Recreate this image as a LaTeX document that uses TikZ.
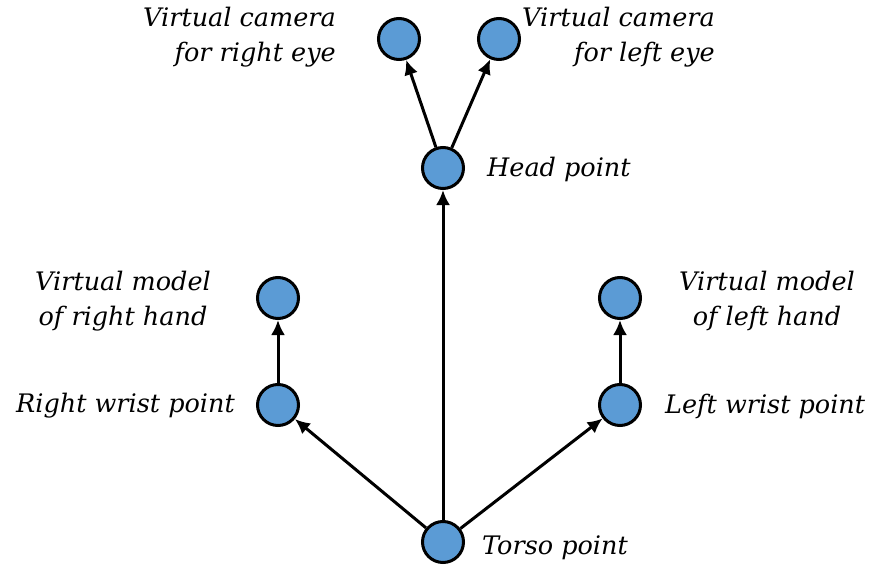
\documentclass[tikz,border=0pt]{standalone}
\usepackage{fontspec}
\setmainfont{DejaVu Serif}
\usetikzlibrary{arrows.meta}
\definecolor{jointblue}{RGB}{91,155,213}
\tikzstyle{joint} = [circle, draw=black, line width=3pt, fill=jointblue, minimum size=41pt, inner sep=0pt]
\tikzstyle{jointtext} = [font=\itshape\fontsize{25.5}{35}\selectfont, inner sep=0pt]
\tikzstyle{arrow} = [line width=3pt, -{Latex[length=15pt,width=14pt]}]

\begin{document}
\begin{tikzpicture}[x=1pt, y=-1pt]
	\useasboundingbox (0,0) rectangle (871,570);
	
	% Kamera
	\node (camright) [joint] at (399,39) {};
	\node (camleft) [joint] at (499,39) {};
	
	% Kepala
	\node (head) [joint] at (443,168) {};
	
	% Tangan
	\node (handright) [joint] at (278,298) {};
	\node (handleft) [joint] at (620,298) {};
	
	% Pergelangan
	\node (wristright) [joint] at (278,405) {};
	\node (wristleft) [joint] at (620,405) {};
	
	% Badan
	\node (torso) [joint] at (443,542) {};
	
	% Teks
	\node (camrighttext) [jointtext, anchor=east, align=right] at (336,37) {Virtual camera\\for right eye};
	\node (camlefttext) [jointtext, anchor=east, align=right] at (715,37) {Virtual camera\\for left eye};
	\node (headtext) [jointtext, anchor=west] at (487,169) {Head point};
	\node (handrighttext) [jointtext, align=center] at (123,301) {Virtual model\\of right hand};
	\node (handlefttext) [jointtext, align=center] at (767,301) {Virtual model\\of left hand};
	\node (wristrighttext) [jointtext, anchor=east] at (235,406) {Right wrist point};
	\node (wristlefttext) [jointtext, anchor=west] at (665,406) {Left wrist point};
	\node (torsotext) [jointtext, anchor=west] at (482,548) {Torso point};
	
	% Panah
	\draw [arrow] (torso) -- (head);
	\draw [arrow] (torso) -- (wristright);
	\draw [arrow] (torso) -- (wristleft);
	\draw [arrow] (wristright) -- (handright);
	\draw [arrow] (wristleft) -- (handleft);
	\draw [arrow] (head) -- (camright);
	\draw [arrow] (head) -- (camleft);
	
\end{tikzpicture}
\end{document}
